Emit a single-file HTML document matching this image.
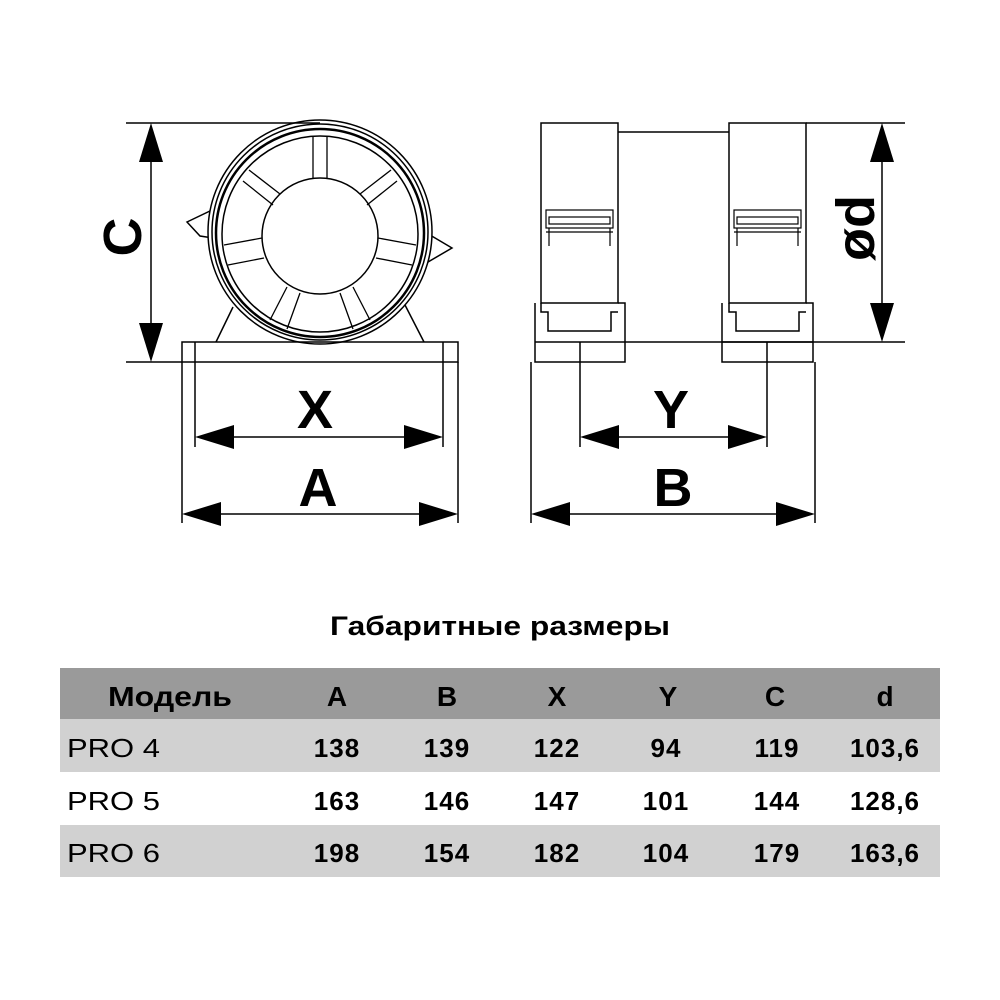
<!DOCTYPE html>
<html><head><meta charset="utf-8"><style>
html,body{margin:0;padding:0;background:#fff;}
svg{display:block;}
text{font-family:"Liberation Sans","DejaVu Sans",sans-serif;}
</style></head><body>
<svg width="1000" height="1000" viewBox="0 0 1000 1000" xmlns="http://www.w3.org/2000/svg">
<rect width="1000" height="1000" fill="#fff"/>
<g fill="none" stroke="#000" stroke-width="1.5">
 <polygon points="187,222 210,211 213,238 200,236" fill="#fff"/>
 <polygon points="452,248 430,235 428,262" fill="#fff"/>
 <line x1="233" y1="307" x2="216" y2="342"/>
 <line x1="405" y1="305" x2="424" y2="342"/>
 <circle cx="320" cy="232" r="112" fill="#fff"/>
 <circle cx="320" cy="232" r="108"/>
 <circle cx="320" cy="233" r="104" stroke-width="2.5"/>
 <circle cx="320" cy="234" r="98"/>
 <circle cx="320" cy="236" r="58"/>
 <g stroke-width="1.3">
  <line x1="313" y1="136" x2="313" y2="178"/><line x1="327" y1="136" x2="327" y2="178"/>
  <line x1="249" y1="170" x2="280" y2="194"/><line x1="243" y1="181" x2="273" y2="205"/>
  <line x1="391" y1="170" x2="360" y2="194"/><line x1="397" y1="181" x2="367" y2="205"/>
  <line x1="224" y1="245" x2="262" y2="238"/><line x1="228" y1="265" x2="264" y2="258"/>
  <line x1="416" y1="245" x2="378" y2="238"/><line x1="412" y1="265" x2="376" y2="258"/>
  <line x1="270" y1="320" x2="287" y2="287"/><line x1="287" y1="329" x2="300" y2="293"/>
  <line x1="370" y1="320" x2="353" y2="287"/><line x1="353" y1="329" x2="340" y2="293"/>
 </g>
 <rect x="182" y="342" width="276" height="20" fill="none"/>
 <line x1="195" y1="342" x2="195" y2="447"/>
 <line x1="443" y1="342" x2="443" y2="447"/>
 <line x1="182" y1="362" x2="182" y2="523"/>
 <line x1="458" y1="362" x2="458" y2="523"/>
 <line x1="126" y1="123" x2="320" y2="123"/>
 <line x1="126" y1="362" x2="182" y2="362"/>
 <line x1="151" y1="150" x2="151" y2="335"/>

 <rect x="541" y="123" width="77" height="180"/>
 <rect x="729" y="123" width="77" height="180"/>
 <line x1="618" y1="132" x2="729" y2="132"/>
 <line x1="806" y1="123" x2="905" y2="123"/>
 <line x1="625" y1="342" x2="905" y2="342"/>
 <line x1="882" y1="150" x2="882" y2="315"/>
 <polyline points="535,303 535,362 625,362 625,303 618,303"/>
 <line x1="535" y1="342" x2="625" y2="342"/>
 <polyline points="541,303 541,312 548,312 548,331 611,331 611,312 618,312"/>
 <line x1="580" y1="342" x2="580" y2="447"/>
 <polyline points="722,303 722,362 813,362 813,303 806,303"/>
 <line x1="722" y1="342" x2="813" y2="342"/>
 <polyline points="729,303 729,312 736,312 736,331 799,331 799,312 806,312"/>
 <line x1="767" y1="342" x2="767" y2="447"/>
 <line x1="531" y1="362" x2="531" y2="523"/>
 <line x1="815" y1="362" x2="815" y2="523"/>
 <g stroke-width="1.2">
  <rect x="546" y="210" width="67" height="18"/>
  <rect x="549" y="217" width="61" height="7"/>
  <line x1="546" y1="232" x2="613" y2="232"/>
  <line x1="549" y1="228" x2="549" y2="246"/><line x1="610" y1="228" x2="610" y2="246"/>
  <rect x="734" y="210" width="67" height="18"/>
  <rect x="737" y="217" width="61" height="7"/>
  <line x1="734" y1="232" x2="801" y2="232"/>
  <line x1="737" y1="228" x2="737" y2="246"/><line x1="798" y1="228" x2="798" y2="246"/>
 </g>
 <line x1="220" y1="437" x2="418" y2="437"/>
 <line x1="207" y1="514" x2="433" y2="514"/>
 <line x1="605" y1="437" x2="742" y2="437"/>
 <line x1="556" y1="514" x2="790" y2="514"/>
</g>
<g fill="#000">
 <polygon points="151,123 139,162 163,162"/>
 <polygon points="151,362 139,323 163,323"/>
 <polygon points="882,123 870,162 894,162"/>
 <polygon points="882,342 870,303 894,303"/>
 <polygon points="195,437 234,425 234,449"/>
 <polygon points="443,437 404,425 404,449"/>
 <polygon points="182,514 221,502 221,526"/>
 <polygon points="458,514 419,502 419,526"/>
 <polygon points="580,437 619,425 619,449"/>
 <polygon points="767,437 728,425 728,449"/>
 <polygon points="531,514 570,502 570,526"/>
 <polygon points="815,514 776,502 776,526"/>
</g>
<g font-weight="bold" font-size="54" text-anchor="middle">
 <text x="315" y="428">X</text>
 <text x="318" y="506">A</text>
 <text x="671" y="428">Y</text>
 <text x="673" y="506">B</text>
 <text transform="translate(141,237) rotate(-90)">C</text>
 <text transform="translate(874,228) rotate(-90)">ød</text>
</g>
<text x="330" y="635" font-size="27" font-weight="bold" textLength="340" lengthAdjust="spacingAndGlyphs">Габаритные размеры</text>
<rect x="60" y="668" width="880" height="51" fill="#9a9a9a"/>
<rect x="60" y="719" width="880" height="53" fill="#d1d1d1"/>
<rect x="60" y="825" width="880" height="52" fill="#d1d1d1"/>
<g font-size="28" font-weight="bold" text-anchor="middle">
 <text x="170" y="706" textLength="124" lengthAdjust="spacingAndGlyphs">Модель</text>
 <text x="337" y="706">A</text><text x="447" y="706">B</text><text x="557" y="706">X</text>
 <text x="668" y="706">Y</text><text x="775" y="706">C</text><text x="885" y="706">d</text>
</g>
<g font-size="26">
 <text x="67" y="757" textLength="93" lengthAdjust="spacingAndGlyphs">PRO 4</text>
 <text x="67" y="810" textLength="93" lengthAdjust="spacingAndGlyphs">PRO 5</text>
 <text x="67" y="862" textLength="93" lengthAdjust="spacingAndGlyphs">PRO 6</text>
</g>
<g font-size="26" font-weight="bold" text-anchor="middle" letter-spacing="1">
 <text x="337" y="757">138</text><text x="447" y="757">139</text><text x="557" y="757">122</text><text x="666" y="757">94</text><text x="777" y="757">119</text><text x="885" y="757">103,6</text>
 <text x="337" y="810">163</text><text x="447" y="810">146</text><text x="557" y="810">147</text><text x="666" y="810">101</text><text x="777" y="810">144</text><text x="885" y="810">128,6</text>
 <text x="337" y="862">198</text><text x="447" y="862">154</text><text x="557" y="862">182</text><text x="666" y="862">104</text><text x="777" y="862">179</text><text x="885" y="862">163,6</text>
</g>
</svg>
</body></html>
